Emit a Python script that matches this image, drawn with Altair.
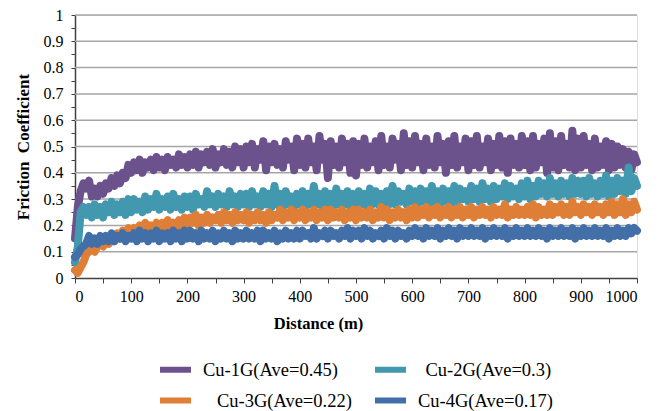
import altair as alt
import pandas as pd

# Sliding distance (m), sampled every 5 m
distance = list(range(0, 1001, 5))

series_names = ["Cu-1G(Ave=0.45)", "\u200b\u2009\u2009Cu-2G(Ave=0.3)",
                "\u200b\u00a0\u00a0\u00a0Cu-3G(Ave=0.22)", "Cu-4G(Ave=0.17)"]
series_colors = ["#6B528C", "#4198AF", "#DF7F37", "#426FA7"]

cu1g = [
    0.15, 0.27, 0.33, 0.36, 0.34, 0.37, 0.31, 0.34, 0.31, 0.35, 0.32, 0.36, 0.34, 0.38, 0.35, 0.39, 0.36, 0.40, 0.38, 0.43,
    0.40, 0.44, 0.41, 0.45, 0.40, 0.44, 0.42, 0.45, 0.41, 0.46, 0.42, 0.45, 0.41, 0.46, 0.43, 0.45, 0.42, 0.47, 0.43, 0.46,
    0.42, 0.47, 0.43, 0.48, 0.42, 0.47, 0.44, 0.48, 0.43, 0.49, 0.42, 0.47, 0.44, 0.49, 0.43, 0.48, 0.42, 0.50, 0.44, 0.49,
    0.42, 0.50, 0.44, 0.51, 0.42, 0.49, 0.45, 0.52, 0.41, 0.50, 0.44, 0.51, 0.43, 0.49, 0.42, 0.52, 0.45, 0.50, 0.41, 0.53,
    0.43, 0.51, 0.42, 0.53, 0.44, 0.50, 0.41, 0.54, 0.45, 0.51, 0.38, 0.52, 0.43, 0.50, 0.42, 0.53, 0.44, 0.51, 0.40, 0.52,
    0.39, 0.51, 0.43, 0.53, 0.42, 0.50, 0.44, 0.52, 0.41, 0.54, 0.43, 0.50, 0.42, 0.53, 0.45, 0.51, 0.41, 0.55, 0.43, 0.52,
    0.42, 0.54, 0.44, 0.51, 0.41, 0.53, 0.43, 0.50, 0.42, 0.54, 0.44, 0.51, 0.40, 0.52, 0.43, 0.54, 0.42, 0.50, 0.44, 0.53,
    0.41, 0.52, 0.43, 0.54, 0.42, 0.50, 0.44, 0.53, 0.41, 0.51, 0.43, 0.54, 0.42, 0.52, 0.40, 0.53, 0.43, 0.51, 0.42, 0.54,
    0.43, 0.52, 0.41, 0.54, 0.42, 0.51, 0.44, 0.53, 0.40, 0.55, 0.42, 0.52, 0.41, 0.54, 0.43, 0.51, 0.42, 0.56, 0.41, 0.53,
    0.42, 0.54, 0.43, 0.51, 0.41, 0.53, 0.42, 0.50, 0.43, 0.52, 0.41, 0.51, 0.42, 0.50, 0.43, 0.49, 0.42, 0.48, 0.41, 0.47,
    0.44,
]

cu2g = [
    0.06, 0.12, 0.25, 0.27, 0.24, 0.27, 0.23, 0.28, 0.24, 0.27, 0.23, 0.28, 0.25, 0.29, 0.24, 0.28, 0.25, 0.29, 0.24, 0.30,
    0.25, 0.30, 0.26, 0.29, 0.25, 0.31, 0.26, 0.30, 0.27, 0.32, 0.26, 0.30, 0.27, 0.31, 0.26, 0.32, 0.27, 0.30, 0.26, 0.31,
    0.27, 0.31, 0.26, 0.32, 0.28, 0.30, 0.27, 0.33, 0.28, 0.31, 0.27, 0.32, 0.28, 0.31, 0.27, 0.33, 0.28, 0.31, 0.27, 0.32,
    0.28, 0.32, 0.27, 0.33, 0.28, 0.31, 0.27, 0.33, 0.28, 0.32, 0.27, 0.35, 0.28, 0.32, 0.27, 0.33, 0.28, 0.31, 0.27, 0.32,
    0.28, 0.33, 0.27, 0.32, 0.28, 0.35, 0.28, 0.32, 0.27, 0.33, 0.28, 0.32, 0.27, 0.34, 0.28, 0.32, 0.28, 0.33, 0.27, 0.32,
    0.28, 0.33, 0.28, 0.32, 0.27, 0.34, 0.28, 0.33, 0.28, 0.32, 0.27, 0.33, 0.28, 0.35, 0.28, 0.33, 0.29, 0.32, 0.28, 0.34,
    0.29, 0.33, 0.28, 0.34, 0.29, 0.33, 0.28, 0.35, 0.29, 0.33, 0.28, 0.34, 0.29, 0.33, 0.28, 0.35, 0.29, 0.34, 0.30, 0.33,
    0.29, 0.35, 0.30, 0.34, 0.29, 0.36, 0.30, 0.34, 0.29, 0.35, 0.30, 0.34, 0.31, 0.36, 0.30, 0.35, 0.31, 0.34, 0.30, 0.36,
    0.31, 0.37, 0.30, 0.35, 0.31, 0.37, 0.32, 0.36, 0.31, 0.38, 0.32, 0.36, 0.31, 0.37, 0.32, 0.36, 0.31, 0.38, 0.32, 0.37,
    0.32, 0.37, 0.31, 0.38, 0.32, 0.36, 0.31, 0.37, 0.32, 0.39, 0.31, 0.37, 0.32, 0.38, 0.33, 0.37, 0.32, 0.42, 0.33, 0.38,
    0.35,
]

cu3g = [
    0.03, 0.02, 0.04, 0.06, 0.09, 0.10, 0.11, 0.10, 0.12, 0.13, 0.12, 0.14, 0.13, 0.16, 0.14, 0.17, 0.15, 0.18, 0.16, 0.19,
    0.17, 0.19, 0.17, 0.20, 0.18, 0.21, 0.18, 0.20, 0.19, 0.21, 0.18, 0.21, 0.19, 0.22, 0.19, 0.21, 0.20, 0.22, 0.19, 0.23,
    0.20, 0.23, 0.21, 0.24, 0.20, 0.23, 0.21, 0.24, 0.21, 0.23, 0.22, 0.24, 0.21, 0.25, 0.22, 0.24, 0.21, 0.25, 0.22, 0.24,
    0.22, 0.25, 0.21, 0.24, 0.22, 0.25, 0.22, 0.24, 0.21, 0.25, 0.22, 0.24, 0.23, 0.26, 0.22, 0.25, 0.23, 0.26, 0.22, 0.25,
    0.23, 0.26, 0.22, 0.25, 0.23, 0.26, 0.22, 0.25, 0.23, 0.26, 0.22, 0.26, 0.23, 0.25, 0.23, 0.26, 0.22, 0.25, 0.23, 0.26,
    0.22, 0.26, 0.23, 0.25, 0.23, 0.26, 0.22, 0.25, 0.23, 0.27, 0.23, 0.26, 0.22, 0.25, 0.23, 0.26, 0.23, 0.25, 0.22, 0.26,
    0.23, 0.27, 0.23, 0.26, 0.24, 0.27, 0.23, 0.26, 0.24, 0.27, 0.23, 0.26, 0.24, 0.27, 0.23, 0.26, 0.24, 0.27, 0.23, 0.26,
    0.24, 0.27, 0.23, 0.26, 0.24, 0.27, 0.24, 0.26, 0.23, 0.27, 0.24, 0.26, 0.24, 0.28, 0.23, 0.26, 0.24, 0.27, 0.24, 0.26,
    0.24, 0.27, 0.24, 0.28, 0.23, 0.27, 0.24, 0.26, 0.24, 0.28, 0.24, 0.27, 0.25, 0.28, 0.24, 0.27, 0.24, 0.29, 0.25, 0.27,
    0.24, 0.28, 0.25, 0.27, 0.24, 0.28, 0.25, 0.27, 0.24, 0.28, 0.25, 0.29, 0.24, 0.28, 0.25, 0.30, 0.24, 0.28, 0.25, 0.29,
    0.26,
]

cu4g = [
    0.08, 0.09, 0.11, 0.12, 0.13, 0.16, 0.13, 0.15, 0.13, 0.16, 0.14, 0.16, 0.14, 0.17, 0.14, 0.16, 0.15, 0.17, 0.14, 0.16,
    0.15, 0.17, 0.14, 0.18, 0.15, 0.17, 0.14, 0.17, 0.15, 0.18, 0.14, 0.17, 0.15, 0.17, 0.14, 0.18, 0.15, 0.17, 0.14, 0.18,
    0.15, 0.18, 0.15, 0.17, 0.14, 0.18, 0.15, 0.17, 0.15, 0.18, 0.14, 0.17, 0.15, 0.18, 0.15, 0.17, 0.14, 0.18, 0.15, 0.17,
    0.15, 0.18, 0.15, 0.17, 0.15, 0.18, 0.14, 0.18, 0.15, 0.17, 0.15, 0.18, 0.14, 0.17, 0.15, 0.18, 0.15, 0.17, 0.15, 0.18,
    0.15, 0.18, 0.16, 0.17, 0.15, 0.19, 0.15, 0.17, 0.16, 0.18, 0.15, 0.18, 0.16, 0.17, 0.15, 0.18, 0.16, 0.19, 0.15, 0.18,
    0.16, 0.18, 0.15, 0.19, 0.16, 0.18, 0.15, 0.17, 0.16, 0.18, 0.15, 0.19, 0.16, 0.18, 0.15, 0.18, 0.16, 0.17, 0.15, 0.18,
    0.16, 0.19, 0.16, 0.18, 0.15, 0.19, 0.16, 0.18, 0.16, 0.19, 0.15, 0.18, 0.16, 0.19, 0.16, 0.18, 0.15, 0.19, 0.16, 0.18,
    0.16, 0.19, 0.16, 0.18, 0.16, 0.19, 0.15, 0.18, 0.16, 0.19, 0.16, 0.18, 0.16, 0.19, 0.15, 0.18, 0.16, 0.19, 0.16, 0.18,
    0.16, 0.19, 0.16, 0.18, 0.16, 0.19, 0.16, 0.18, 0.15, 0.19, 0.16, 0.18, 0.16, 0.19, 0.16, 0.18, 0.16, 0.19, 0.15, 0.18,
    0.16, 0.19, 0.16, 0.18, 0.16, 0.19, 0.16, 0.18, 0.16, 0.19, 0.15, 0.18, 0.16, 0.19, 0.16, 0.18, 0.16, 0.19, 0.17, 0.19,
    0.18,
]

grid_values = [0.1, 0.2, 0.3, 0.4, 0.5, 0.6, 0.7, 0.8, 0.9, 1.0]
x_tick_values = list(range(0, 1001, 50))
y_tick_values = [0, 0.05, 0.1, 0.15, 0.2, 0.25, 0.3, 0.35, 0.4, 0.45, 0.5,
                 0.55, 0.6, 0.65, 0.7, 0.75, 0.8, 0.85, 0.9, 0.95, 1.0]

rows = []
for name, vals in zip(series_names, [cu1g, cu2g, cu3g, cu4g]):
    for d, v in zip(distance, vals):
        rows.append({"series": name, "distance": d, "cof": v})
df = pd.DataFrame(rows)
grid_df = pd.DataFrame({"g": grid_values})

FONT = "Liberation Serif"
yscale = alt.Scale(domain=[0, 1], nice=False, zero=True)
xscale = alt.Scale(domain=[0, 1000], nice=False)

y_axis = alt.Axis(values=y_tick_values, title="Friction\u00a0 Coefficient",
                  labelExpr="abs(datum.value*10 - round(datum.value*10)) < 0.001 ? toString(round(datum.value*10)/10) : ''",
                  grid=False, tickSize=4, tickColor="#404040", domainColor="#404040",
                  domainWidth=1.5, labelPadding=8, titlePadding=11,
                  labelFont=FONT, labelFontSize=16, labelColor="#000",
                  titleFont=FONT, titleFontSize=17, titleFontWeight="bold",
                  titleColor="#000")

grid = alt.Chart(grid_df).mark_rule(color="#A6A6A6", strokeWidth=1.5).encode(
    y=alt.Y("g:Q", scale=yscale, axis=y_axis)
)

lines = alt.Chart(df).mark_line(strokeWidth=8, strokeJoin="round", strokeCap="round").encode(
    x=alt.X("distance:Q", scale=xscale,
            axis=alt.Axis(values=x_tick_values, title="Distance (m)",
                          labelExpr="datum.value % 100 === 0 ? toString(datum.value) : ''",
                          grid=False, tickSize=5, tickColor="#404040", domainColor="#404040",
                          domainWidth=1.5, labelPadding=5, titlePadding=11,
                          titleX=243, titleAlign="center",
                          labelFont=FONT, labelFontSize=16, labelColor="#000",
                          titleFont=FONT, titleFontSize=16.5, titleFontWeight="bold",
                          titleColor="#000")),
    y=alt.Y("cof:Q", scale=yscale, axis=y_axis),
    color=alt.Color("series:N",
                    scale=alt.Scale(domain=series_names, range=series_colors),
                    legend=alt.Legend(title=None, orient="none", legendX=82, legendY=336,
                                      direction="horizontal",
                                      columns=2, columnPadding=11, rowPadding=0,
                                      symbolType="stroke", symbolStrokeWidth=6,
                                      symbolSize=961, labelFont=FONT, labelFontSize=18.5,
                                      labelColor="#000", labelOffset=9)),
    detail="series:N",
)

chart = alt.layer(grid, lines).properties(
    width=562, height=263,
    autosize=alt.AutoSizeParams(type="none"),
    padding={"left": 75, "top": 15, "right": 26, "bottom": 133},
).configure_view(stroke=None).configure(background="white")

chart.save("out.html", embed_options={"renderer": "svg", "actions": False})
